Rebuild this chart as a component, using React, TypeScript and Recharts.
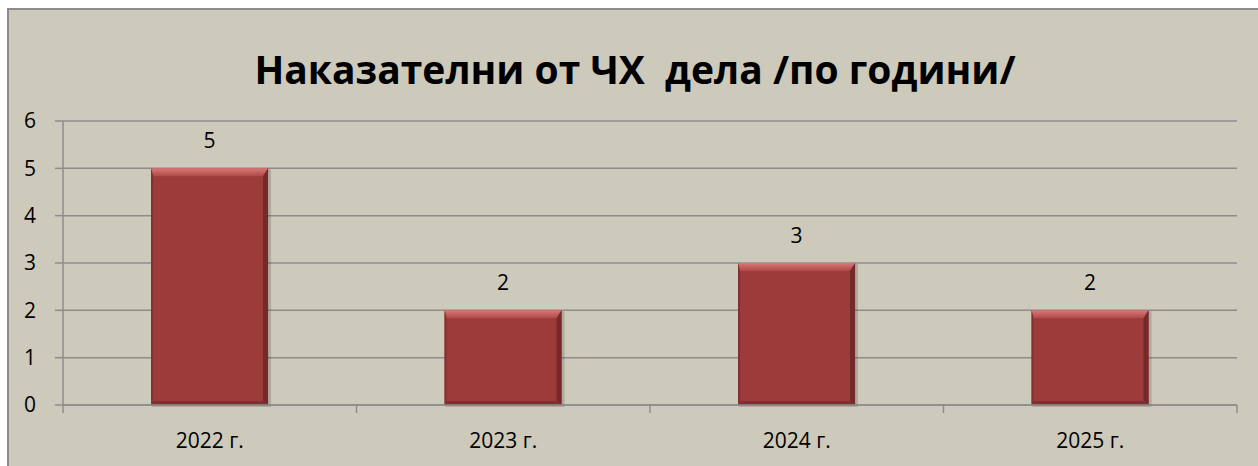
import React from "react";
import {
  BarChart,
  Bar,
  XAxis,
  YAxis,
  CartesianGrid,
  LabelList,
} from "recharts";

const years = ["2022 г.", "2023 г.", "2024 г.", "2025 г."];
const cases = [5, 2, 3, 2];
const yTicks = [0, 1, 2, 3, 4, 5, 6];

const data = years.map((year, i) => ({ year, cases: cases[i] }));

const FONT = "'Open Sans', 'Noto Sans', sans-serif";
const GRID = "#8c8c8c";
const TICK_SIZE = 8;
const TICK_MARGIN = 8;

function BevelBar(props: any) {
  const { x, y, width, height } = props;
  if (!height || height <= 0) return null;
  const t = 8;
  const r = 5;
  const b = 4;
  const l = 2;
  return (
    <g>
      <rect x={x + 1} y={y + 1} width={width + 2} height={height + 1} fill="rgba(60,50,40,0.2)" />
      <rect x={x} y={y} width={width} height={height} fill="#9d3b3a" />
      <polygon
        points={`${x},${y} ${x + width},${y} ${x + width - r},${y + t} ${x + l},${y + t}`}
        fill="url(#barTop)"
      />
      <polygon
        points={`${x + width},${y} ${x + width},${y + height} ${x + width - r},${y + height - b} ${x + width - r},${y + t}`}
        fill="#74292a"
      />
      <polygon
        points={`${x},${y + height} ${x + width},${y + height} ${x + width - r},${y + height - b} ${x + l},${y + height - b}`}
        fill="#7f2f2f"
      />
      <polygon
        points={`${x},${y} ${x + l},${y + t} ${x + l},${y + height - b} ${x},${y + height}`}
        fill="#833030"
      />
    </g>
  );
}

function YearTick(props: any) {
  const { x, y, payload, index } = props;
  const axisY = y - TICK_SIZE - TICK_MARGIN;
  const half = payload && payload.offset ? payload.offset : 146.75;
  return (
    <g>
      <line x1={x - half} y1={axisY} x2={x - half} y2={axisY + TICK_SIZE} stroke={GRID} strokeWidth={1.5} />
      {index === years.length - 1 && (
        <line x1={x + half} y1={axisY} x2={x + half} y2={axisY + TICK_SIZE} stroke={GRID} strokeWidth={1.5} />
      )}
      <text x={x} y={axisY + 43} textAnchor="middle" fill="#000" fontSize={21} fontFamily={FONT}>
        {payload.value}
      </text>
    </g>
  );
}

export default function App() {
  return (
    <div
      style={{
        position: "absolute",
        left: 0,
        top: 0,
        width: 1258,
        height: 466,
        overflow: "hidden",
        background: "#ffffff",
      }}
    >
      <div
        style={{
          position: "absolute",
          left: 7,
          top: 8,
          width: 1270,
          height: 480,
          background: "#cdc9bb",
          borderLeft: "2px solid #8c8c8c",
          borderTop: "2px solid #8c8c8c",
        }}
      />
      <div
        style={{
          position: "absolute",
          left: 0,
          top: 44,
          width: 1270,
          textAlign: "center",
          fontFamily: FONT,
          fontWeight: 700,
          fontSize: 39,
          lineHeight: "50px",
          color: "#000",
          whiteSpace: "pre",
        }}
      >
        {"Наказателни от ЧХ  дела /по години/"}
      </div>
      <div style={{ position: "absolute", left: 0, top: 0 }}>
        <BarChart
          width={1258}
          height={466}
          data={data}
          margin={{ top: 121, right: 21, bottom: 0, left: 0 }}
          barCategoryGap="30%"
        >
          <defs>
            <linearGradient id="barTop" x1="0" y1="0" x2="0" y2="1">
              <stop offset="0%" stopColor="#d97878" />
              <stop offset="100%" stopColor="#b04846" />
            </linearGradient>
          </defs>
          <CartesianGrid vertical={false} stroke={GRID} strokeWidth={1.5} />
          <XAxis
            dataKey="year"
            axisLine={{ stroke: GRID, strokeWidth: 1.5 }}
            tickLine={false}
            tickSize={TICK_SIZE}
            tickMargin={TICK_MARGIN}
            tick={<YearTick />}
            interval={0}
            height={61}
          />
          <YAxis
            width={63}
            domain={[0, 6]}
            ticks={yTicks}
            interval={0}
            axisLine={{ stroke: GRID, strokeWidth: 1.5 }}
            tickLine={{ stroke: GRID, strokeWidth: 1.5 }}
            tickSize={8}
            tickMargin={19}
            tick={{ fill: "#000", fontSize: 21, fontFamily: FONT }}
          />
          <Bar dataKey="cases" shape={<BevelBar />} isAnimationActive={false}>
            <LabelList
              dataKey="cases"
              position="top"
              offset={20}
              fill="#000"
              fontSize={21}
              fontFamily={FONT}
            />
          </Bar>
        </BarChart>
      </div>
    </div>
  );
}
